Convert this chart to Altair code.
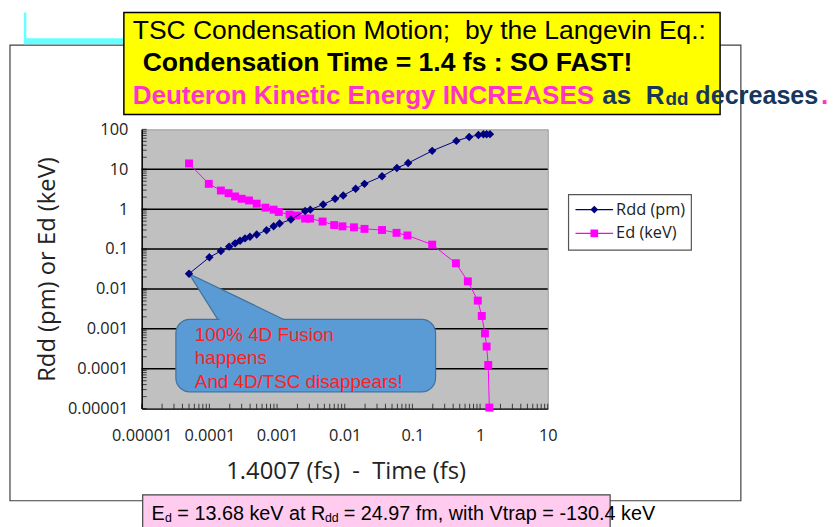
import altair as alt
import pandas as pd

# ---------------- data ----------------
rdd_time = [5.0e-5, 1.0e-4, 1.48e-4, 1.96e-4, 2.4e-4, 2.84e-4, 3.36e-4, 3.98e-4, 5.0e-4,
            7.0e-4, 8.9e-4, 1.09e-3, 1.6e-3, 2.6e-3, 3.1e-3, 4.8e-3, 7.2e-3, 9.5e-3,
            1.45e-2, 1.96e-2, 3.56e-2, 5.9e-2, 8.65e-2, 0.196, 0.446, 0.69, 0.946,
            1.12, 1.25, 1.4007]
rdd_pm = [0.024, 0.062, 0.089, 0.115, 0.139, 0.161, 0.185, 0.203, 0.232,
          0.297, 0.374, 0.436, 0.548, 0.90, 0.97, 1.31, 1.82, 2.20,
          3.23, 4.30, 6.66, 10.7, 14.3, 28.9, 51.3, 64.4, 72.3,
          75.1, 75.5, 75.8]

ed_time = [5.0e-5, 9.8e-5, 1.48e-4, 1.92e-4, 2.4e-4, 3.0e-4, 3.85e-4, 5.0e-4, 6.75e-4,
           8.9e-4, 1.06e-3, 1.53e-3, 1.96e-3, 2.6e-3, 3.08e-3, 4.71e-3, 6.98e-3, 9.25e-3,
           1.37e-2, 1.96e-2, 3.56e-2, 5.83e-2, 8.45e-2, 0.196, 0.44, 0.66, 0.925,
           1.06, 1.18, 1.25, 1.32, 1.37]
ed_kev = [14.0, 4.3, 2.93, 2.52, 2.08, 1.82, 1.65, 1.37, 1.09,
          0.97, 0.85, 0.73, 0.69, 0.58, 0.58, 0.49, 0.40, 0.37,
          0.35, 0.32, 0.30, 0.255, 0.219, 0.129, 0.044, 0.0155, 0.0051,
          0.0021, 7.7e-4, 3.6e-4, 1.24e-4, 1.06e-5]

x_labels = [1e-5, 1e-4, 1e-3, 0.01, 0.1, 1, 10]
y_labels = [1e-5, 1e-4, 1e-3, 0.01, 0.1, 1, 10, 100]
grid_vals = [10, 1, 0.1, 0.01, 0.001, 0.0001]
x_minor = [k * 10.0 ** n for n in range(-5, 1) for k in range(1, 10)] + [10]
y_minor = [k * 10.0 ** n for n in range(-5, 2) for k in range(1, 10)] + [100]

series_names = ["Rdd (pm)", "Ed (keV)"]
callout_lines = ["100% 4D Fusion", "happens", "And 4D/TSC disappears!"]
# callout geometry (data coordinates)
callout_box = {"x": [3.2e-5], "x2": [0.22], "y": [2.64e-5], "y2": [1.72e-3]}
pointer_x = [5.0e-5, 1.33e-4, 1.26e-3]
pointer_top = [0.024, 0.0108, 1.72e-3]
pointer_bottom = [0.024, 1.72e-3, 1.72e-3]

NAVY = "#000080"
MAG = "#ff00ff"
BLUE = "#5b9bd5"
BLUE_EDGE = "#41719c"
PINK_TXT = "#ff33cc"
DARK_BLUE_TXT = "#17365d"

W, H = 410, 282
PAD = {"left": 135, "top": 120, "right": 285, "bottom": 117}

xs = alt.Scale(type="log", domain=[1e-5, 10], nice=False)
ys = alt.Scale(type="log", domain=[1e-5, 100], nice=False)

xaxis = alt.Axis(values=x_labels, format=".5~f", title="1.4007 (fs)\u00a0 -\u00a0 Time (fs)",
                 ticks=False, tickSize=0, grid=False, domainColor="#000", domainWidth=1.5,
                 labelFont="Open Sans", labelFontSize=16.5, labelColor="#222", labelPadding=19,
                 labelFlush=False, labelOverlap=False,
                 titleFont="Open Sans", titleFontSize=24, titleFontWeight="normal", titleColor="#222",
                 titleX=206, titleY=64, titleAlign="center", titleBaseline="middle")
yaxis = alt.Axis(values=y_labels, format=".5~f", title="Rdd (pm) or Ed (keV)",
                 ticks=False, tickSize=0, grid=False, domainColor="#000", domainWidth=1.5,
                 labelFont="Open Sans", labelFontSize=16.5, labelColor="#222", labelPadding=14,
                 labelOverlap=False,
                 titleFont="Open Sans", titleFontSize=24, titleFontWeight="normal", titleColor="#222",
                 titleX=-95, titleY=141, titleAngle=270, titleAlign="center", titleBaseline="middle")


def X(f="x"):
    return alt.X(f"{f}:Q", scale=xs, axis=xaxis)


def Y(f="y"):
    return alt.Y(f"{f}:Q", scale=ys, axis=yaxis)


one = pd.DataFrame({"k": [0]})


def ptext(text, x, y, size, color="#000", weight="normal", font="Liberation Sans",
          align="left", baseline="alphabetic"):
    return alt.Chart(one).mark_text(text=text, font=font, fontSize=size, fontWeight=weight,
                                    color=color, align=align, baseline=baseline
                                    ).encode(x=alt.value(x), y=alt.value(y))


def prect(x, x2, y, y2, fill, stroke=None, sw=1.0, fo=1.0):
    kw = dict(fill=fill, fillOpacity=fo)
    if stroke:
        kw.update(stroke=stroke, strokeWidth=sw)
    return alt.Chart(one).mark_rect(**kw).encode(
        x=alt.value(x), x2=alt.value(x2), y=alt.value(y), y2=alt.value(y2))


layers = []
# outer frame
layers.append(prect(-133, 605, -85, 375, "white", "#404040", 1.2, 0))
# cyan decoration
layers.append(prect(-119, -116.5, -118, -86, "#66ffff"))
layers.append(prect(-119, -18, -92, -86, "#66ffff"))
# yellow title box
layers.append(prect(-18, 584, -118, -15, "#ffff00", "#000", 1.5))
layers.append(ptext("TSC Condensation Motion;\u00a0 by the Langevin Eq.:", -9, -91, 26.7))
layers.append(ptext("Condensation Time = 1.4 fs : SO FAST!", 1, -59, 26.8, weight="bold"))
layers.append(ptext("Deuteron Kinetic Energy INCREASES", -9, -26, 26.2, color=PINK_TXT, weight="bold"))
layers.append(ptext("as", 465, -26, 26.2, color=DARK_BLUE_TXT, weight="bold"))
layers.append(ptext("R", 509, -26, 26.2, color=DARK_BLUE_TXT, weight="bold"))
layers.append(ptext("dd", 529, -25, 19, color=DARK_BLUE_TXT, weight="bold"))
layers.append(ptext("decreases", 559, -26, 25.4, color=DARK_BLUE_TXT, weight="bold"))
layers.append(ptext(".", 686, -26, 26.2, color=PINK_TXT, weight="bold"))

# gridlines and ticks
layers.append(alt.Chart(pd.DataFrame({"y": grid_vals})).mark_rule(color="#000", strokeWidth=1.5)
              .encode(y=Y()))
layers.append(alt.Chart(pd.DataFrame({"y": y_minor})).mark_tick(orient="horizontal", size=5, thickness=1, color="#000")
              .encode(y=Y(), x=alt.value(2.5)))
layers.append(alt.Chart(pd.DataFrame({"x": x_minor})).mark_tick(orient="vertical", size=5, thickness=1, color="#000")
              .encode(x=X(), y=alt.value(H - 2.5)))

# callout
tri = pd.DataFrame({"x": pointer_x, "y": pointer_top, "y2": pointer_bottom})
layers.append(alt.Chart(tri).mark_area(color=BLUE, opacity=1).encode(x=X(), y=Y(), y2=alt.Y2("y2:Q")))
layers.append(alt.Chart(pd.DataFrame(callout_box)).mark_rect(fill=BLUE, stroke=BLUE_EDGE, strokeWidth=1.2, cornerRadius=14)
              .encode(x=X(), x2=alt.X2("x2:Q"), y=Y(), y2=alt.Y2("y2:Q")))
seam = pd.DataFrame({"x": [pointer_x[1] * 1.06], "x2": [pointer_x[2] * 0.96], "y": [pointer_bottom[1]]})
layers.append(alt.Chart(seam).mark_rule(color=BLUE, strokeWidth=2.5).encode(x=X(), x2=alt.X2("x2:Q"), y=Y()))
edges = pd.DataFrame({"x": [pointer_x[0], pointer_x[1], pointer_x[0], pointer_x[2]],
                      "y": [pointer_top[0], pointer_bottom[1], pointer_top[0], pointer_bottom[2]],
                      "g": ["a", "a", "b", "b"], "o": [0, 1, 0, 1]})
layers.append(alt.Chart(edges).mark_line(color=BLUE_EDGE, strokeWidth=1.2)
              .encode(x=X(), y=Y(), detail="g:N", order="o:Q"))
layers.append(alt.Chart(pd.DataFrame({"x": [6.1e-5], "y": [4.9e-4]}))
              .mark_text(text=callout_lines, font="Liberation Sans", fontSize=19, color="#ff2020",
                         align="left", baseline="alphabetic", lineHeight=23.5)
              .encode(x=X(), y=Y()))

# series
ed_df = pd.DataFrame({"x": ed_time, "y": ed_kev})
rdd_df = pd.DataFrame({"x": rdd_time, "y": rdd_pm})
layers.append(alt.Chart(ed_df).mark_line(color=MAG, strokeWidth=1).encode(x=X(), y=Y()))
layers.append(alt.Chart(ed_df).mark_point(shape="square", filled=True, size=64, color=MAG, opacity=1)
              .encode(x=X(), y=Y()))
layers.append(alt.Chart(rdd_df).mark_line(color=NAVY, strokeWidth=1).encode(x=X(), y=Y()))
layers.append(alt.Chart(rdd_df).mark_point(shape="diamond", filled=True, size=72, color=NAVY, opacity=1)
              .encode(x=X(), y=Y()))

# legend
layers.append(prect(431, 555, 66, 122, "white", "#555", 1.2))
for i, (name, col, shp) in enumerate(zip(series_names, [NAVY, MAG], ["diamond", "square"])):
    yy = 81 + 24 * i
    layers.append(alt.Chart(one).mark_rule(color=col, strokeWidth=1.2)
                  .encode(x=alt.value(438), x2=alt.value(476), y=alt.value(yy)))
    layers.append(alt.Chart(one).mark_point(shape=shp, filled=True, size=60, color=col, opacity=1)
                  .encode(x=alt.value(457), y=alt.value(yy)))
    layers.append(ptext(name, 479, yy, 16.5, color="#222", font="Open Sans", baseline="middle"))

# bottom pink box
layers.append(prect(1, 473, 369, 402, "#ffccf0", "#444", 1.2))
layers.append(ptext("E", 10, 394, 20))
layers.append(ptext("d", 23.5, 396, 12.5))
layers.append(ptext("= 13.68 keV at R", 36, 394, 20))
layers.append(ptext("dd", 185, 396, 12.5))
layers.append(ptext("= 24.97 fm, with Vtrap = -130.4 keV", 204, 394, 20))

chart = alt.layer(*layers).properties(
    width=W, height=H, padding=PAD, autosize=alt.AutoSizeParams(type="none"),
    background="white"
).configure_view(fill="#c0c0c0", stroke="#9a9a9a", strokeWidth=1)

chart.save("out.html", embed_options={"renderer": "svg", "actions": False})
